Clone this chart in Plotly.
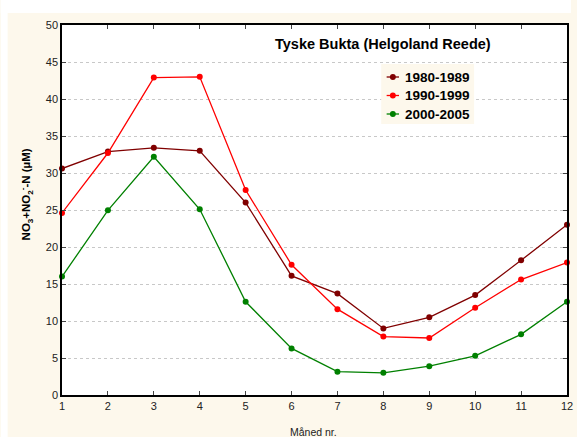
import plotly.graph_objects as go

months = list(range(1, 13))
s1980 = [30.6, 32.9, 33.4, 33.0, 26.0, 16.1, 13.7, 9.0, 10.5, 13.5, 18.2, 23.0]
s1990 = [24.6, 32.7, 42.9, 43.0, 27.7, 17.6, 11.6, 7.9, 7.7, 11.8, 15.6, 17.9]
s2000 = [16.0, 24.95, 32.2, 25.1, 12.6, 6.3, 3.15, 3.0, 3.9, 5.3, 8.2, 12.6]
series = [("1980-1989", s1980, "#800000"),
          ("1990-1999", s1990, "#ff0000"),
          ("2000-2005", s2000, "#008000")]

cream = "#fdf8ec"
font = "Liberation Sans, Arial, sans-serif"

fig = go.Figure()
for name, vals, col in series:
    fig.add_trace(go.Scatter(
        x=months, y=vals, name=name, mode="lines+markers",
        line=dict(color=col, width=1.3),
        marker=dict(color=col, size=6),
        cliponaxis=False, showlegend=False,
    ))

W, H = 577, 437
L, R, T, B = 62, 4, 25, 42
pw, ph = W - L - R, H - T - B

def px_x(x):
    return (x - L) / pw

def px_y(y):
    return (H - B - y) / ph

shapes = [
    # white margins around the cream page
    dict(type="rect", xref="paper", yref="paper", layer="below",
         x0=px_x(0), x1=px_x(7), y0=px_y(H), y1=px_y(0),
         fillcolor="white", line=dict(width=0)),
    dict(type="rect", xref="paper", yref="paper", layer="below",
         x0=px_x(0), x1=px_x(W), y0=px_y(13), y1=px_y(0),
         fillcolor="white", line=dict(width=0)),
    # legend box
    dict(type="rect", xref="paper", yref="paper", layer="above",
         x0=px_x(385), x1=px_x(479), y0=px_y(124), y1=px_y(64),
         fillcolor=cream, line=dict(width=0)),
]
annotations = [
    dict(text="<b>Tyske Bukta (Helgoland Reede)</b>", xref="paper", yref="paper",
         x=px_x(387), y=px_y(44), yanchor="middle", showarrow=False,
         font=dict(size=14.5, color="black")),
    dict(text="<b>NO<sub>3</sub>+NO<sub>2</sub><sup>-</sup>-N (µM)</b>",
         xref="paper", yref="paper", x=px_x(26), y=px_y(194),
         xanchor="center", yanchor="middle",
         textangle=-90, showarrow=False,
         font=dict(size=11.5, color="black")),
    dict(text="Måned nr.", xref="paper", yref="paper",
         x=px_x(316), y=px_y(432), yanchor="middle", showarrow=False,
         font=dict(size=10.5, color="#222")),
]

# legend entries: short line with a dot, then the label
leg_rows = [77, 95.5, 114]
for (name, vals, col), yy in zip(series, leg_rows):
    shapes.append(dict(type="line", xref="paper", yref="paper", layer="above",
                       x0=px_x(390.5), x1=px_x(403), y0=px_y(yy), y1=px_y(yy),
                       line=dict(color=col, width=1.3)))
    shapes.append(dict(type="circle", xref="paper", yref="paper", layer="above",
                       x0=px_x(393.8), x1=px_x(399.8),
                       y0=px_y(yy + 3), y1=px_y(yy - 3),
                       fillcolor=col, line=dict(width=0)))
    annotations.append(dict(text=f"<b>{name}</b>", xref="paper", yref="paper",
                            x=px_x(407), y=px_y(yy), xanchor="left",
                            yanchor="middle", showarrow=False,
                            font=dict(size=13.5, color="black")))

fig.update_layout(
    width=W, height=H,
    margin=dict(l=L, r=R, t=T, b=B),
    paper_bgcolor=cream,
    plot_bgcolor="white",
    font=dict(family=font, color="#222", size=11),
    xaxis=dict(
        range=[1, 12], tickvals=months, ticks="inside", ticklen=4,
        showline=True, linecolor="black", linewidth=1.5, mirror="ticks",
        showgrid=False, zeroline=False, ticklabeloverflow="allow",
        tickfont=dict(size=11, color="#222"),
    ),
    yaxis=dict(
        range=[0, 50], dtick=5, ticks="inside", ticklen=4,
        showline=True, linecolor="black", linewidth=1.5, mirror="ticks",
        showgrid=True, gridcolor="#c8c8c8", griddash="dot", gridwidth=1,
        zeroline=False,
        tickfont=dict(size=11, color="#222"),
    ),
    shapes=shapes,
    annotations=annotations,
)

fig.write_html("out.html")
